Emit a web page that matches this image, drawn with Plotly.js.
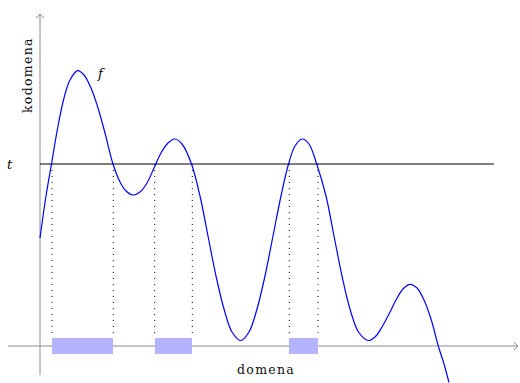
<!DOCTYPE html>
<html>
<head>
<meta charset="utf-8">
<script src="https://cdn.plot.ly/plotly-3.0.1.min.js"></script>
<style>
html,body{margin:0;padding:0;background:#fff;}
#chart{width:520px;height:383px;}
</style>
</head>
<body>
<div id="chart"></div>
<script>
// Curve f (domain units, origin at axis intersection)
var fX = [0, 6, 12, 18, 24, 30, 37.7, 44, 51, 58, 65, 73, 80, 86, 93, 100, 107, 114, 121, 128, 135, 142, 151.5, 160, 168, 176, 184, 192, 200.7, 209, 217, 225, 233, 241, 248.5, 255, 262.3, 269, 276.7, 286, 294, 302, 310, 318.5, 328.3, 335, 342, 349, 356, 363, 370, 377, 384, 391, 398.3, 404, 409];
var fY = [108, 150, 185, 220, 248, 266, 275.3, 271, 258, 238, 213, 182, 164, 155, 151, 154, 163, 178, 193, 203, 207, 202, 182, 150, 110, 70, 37, 14, 5.5, 14, 37, 70, 110, 150, 182, 200, 207, 202, 182, 150, 110, 70, 37, 14, 5.5, 9, 19, 32, 46, 57, 61.7, 58, 46, 27, 0, -18, -36.5];

// threshold t
var tValue = 182;
var tLineX = [0, 454];

// intervals where f > t
var intervalStart = [12, 114.7, 249.3];
var intervalEnd = [73.3, 152.3, 278];

// labels
var labelF = "f";
var labelT = "t";
var labelX = "domena";
var labelY = "kodomena";

var BAR_HALF = 8;
var blue = "#0000ff";
var barColor = "#b3b3ff";
var axisGray = "#8c8c8c";

// dotted verticals
var dotX = [], dotY = [];
for (var i = 0; i < intervalStart.length; i++) {
  [intervalStart[i], intervalEnd[i]].forEach(function (c) {
    dotX.push(c, c, null);
    dotY.push(tValue, BAR_HALF, null);
  });
}

var barX = intervalStart.map(function (s, i) { return (s + intervalEnd[i]) / 2; });
var barW = intervalStart.map(function (s, i) { return intervalEnd[i] - s; });
var barH = intervalStart.map(function () { return 2 * BAR_HALF; });

var traces = [
  {
    type: "bar", x: barX, y: barH, base: -BAR_HALF, width: barW,
    marker: { color: barColor, line: { width: 0 } }, hoverinfo: "skip"
  },
  {
    type: "scatter", mode: "lines", x: dotX, y: dotY,
    line: { color: "#000", width: 1, dash: "1px,5px" }, hoverinfo: "skip"
  },
  {
    type: "scatter", mode: "lines", x: tLineX, y: [tValue, tValue],
    line: { color: "#000", width: 1.2 }, hoverinfo: "skip"
  },
  {
    type: "scatter", mode: "lines", x: fX, y: fY,
    line: { color: blue, width: 1.2, shape: "spline", smoothing: 1 }, hoverinfo: "skip"
  }
];

var serif = "DejaVu Serif, Liberation Serif, serif";

var layout = {
  width: 520, height: 383,
  margin: { l: 0, r: 0, t: 0, b: 0, pad: 0 },
  paper_bgcolor: "#fff", plot_bgcolor: "#fff",
  showlegend: false,
  bargap: 0,
  xaxis: { range: [-40, 480], visible: false, fixedrange: true },
  yaxis: { range: [-37, 346], visible: false, fixedrange: true },
  shapes: [
    { type: "path", layer: "below", xref: "x", yref: "y",
      path: "M -32 0 L 478 0 M 474 4 Q 476 1 478 0 Q 476 -1 474 -4",
      line: { color: axisGray, width: 1 } },
    { type: "path", layer: "below", xref: "x", yref: "y",
      path: "M 0 -29 L 0 332 M -4 328 Q -1 330 0 332 Q 1 330 4 328",
      line: { color: axisGray, width: 1 } }
  ],
  annotations: [
    { x: 60.5, y: 273, xref: "x", yref: "y", text: "<i>" + labelF + "</i>", showarrow: false,
      font: { family: serif, size: 13, color: "#000" }, xanchor: "center", yanchor: "middle" },
    { x: -30, y: 182, xref: "x", yref: "y", text: "<i>" + labelT + "</i>", showarrow: false,
      font: { family: serif, size: 13, color: "#000" }, xanchor: "center", yanchor: "middle" },
    { x: 226, y: -23, xref: "x", yref: "y",
      text: '<span style="letter-spacing:1.3px">' + labelX + '</span>', showarrow: false,
      font: { family: serif, size: 12.5, color: "#111" }, xanchor: "center", yanchor: "middle" },
    { x: -13, y: 271, xref: "x", yref: "y", textangle: -90,
      text: '<span style="letter-spacing:1.3px">' + labelY + '</span>', showarrow: false,
      font: { family: serif, size: 12.5, color: "#111" }, xanchor: "center", yanchor: "middle" }
  ]
};

Plotly.newPlot("chart", traces, layout, { staticPlot: true, displayModeBar: false });
</script>
</body>
</html>
